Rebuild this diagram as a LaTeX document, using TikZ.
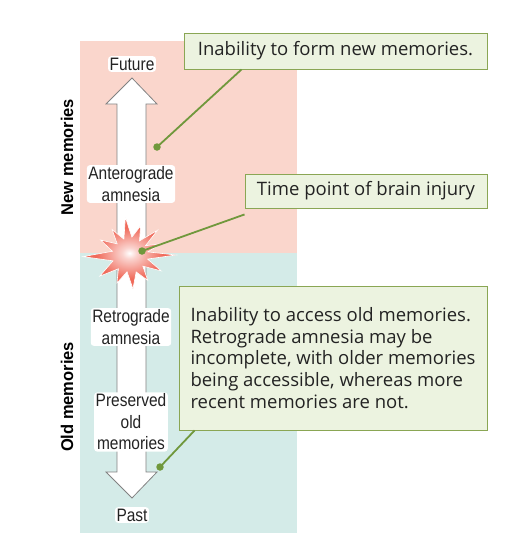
\documentclass[tikz,border=0pt]{standalone}
\usepackage{fontspec}
\setmainfont{Open Sans}
\newfontfamily\condf[FakeStretch=0.86]{Liberation Sans}
\newfontfamily\condb[FakeStretch=0.97]{Liberation Sans Bold}
\usetikzlibrary{calc}
\definecolor{pinkbg}{RGB}{250,214,204}
\definecolor{bluebg}{RGB}{212,235,232}
\definecolor{boxfill}{RGB}{236,243,224}
\definecolor{boxdraw}{RGB}{138,166,84}
\definecolor{leadc}{RGB}{112,152,60}
\definecolor{starc}{RGB}{240,106,90}
\definecolor{arrowc}{RGB}{130,130,130}
\definecolor{txt}{RGB}{35,35,35}
\pgfdeclareradialshading{starshade}{\pgfpoint{0bp}{0bp}}{color(0bp)=(white); color(4bp)=(white!70!starc); color(18bp)=(starc); color(50bp)=(starc)}
\tikzset{
  infobox/.style={draw=boxdraw, line width=0.9pt, fill=boxfill, text=txt, font=\fontsize{18.5}{21.6}\selectfont, inner sep=0pt},
  leader/.style={draw=leadc, line width=1.8pt},
  dot/.style={circle, fill=leadc, inner sep=0pt, minimum size=7.5pt},
  arlabel/.style={fill=white, rounded corners=3pt, inner sep=1.5pt, text=txt, font=\condf\fontsize{18}{21.5}\selectfont, align=center},
  sidelabel/.style={rotate=90, font=\condb\fontsize{17}{18}\selectfont, text=black},
}
\begin{document}
\begin{tikzpicture}[x=1pt,y=-1pt]
\useasboundingbox (0,0) rectangle (523,555);
% backgrounds
\fill[pinkbg] (80,41) rectangle (297,253);
\fill[bluebg] (80,253) rectangle (297,533);
% side labels
\node[sidelabel] (newm) at (67,157) {New memories};
\node[sidelabel] (oldm) at (67,397) {Old memories};
% arrow
\draw[arrowc, fill=white, line width=0.8pt, line join=miter]
  (132,78) -- (157,104) -- (146,104) -- (146,472) -- (157,472) -- (132,498)
  -- (106,472) -- (117,472) -- (117,104) -- (106,104) -- cycle;
% labels on arrow
\node[arlabel] (fut) at (132,64) {Future};
\node[arlabel] (past) at (132,515) {Past};
\node[arlabel] (ant) at (131,184) {Anterograde\\amnesia};
\node[arlabel] (ret) at (131,327) {Retrograde\\amnesia};
\node[arlabel] (pres) at (131,422) {Preserved\\old\\memories};
% starburst
\begin{scope}[shift={(130,255)}]
\shade[shading=starshade, draw=white, line width=0.6pt, line join=miter]
  (0:46) -- (13:18) -- (27:35) -- (41:17) -- (55:31) -- (70:18) -- (85:34) -- (100:17)
  -- (115:31) -- (130:18) -- (145:37) -- (161:18) -- (178:47) -- (192:18) -- (207:33)
  -- (221:17) -- (235:31) -- (249:17) -- (263:38) -- (276:18) -- (290:31) -- (304:17)
  -- (318:37) -- (329:18) -- (340:33) -- (350:18) -- cycle;
\end{scope}
% boxes
\node[infobox, minimum width=303pt, minimum height=36pt] (b1) at (335.5,51) {Inability to form new memories.};
\node[infobox, minimum width=242pt, minimum height=34pt] (b2) at (366,191) {Time point of brain injury};
\node[infobox, minimum width=308pt, minimum height=144pt, align=left] (b3) at (333,358)
  {Inability to access old memories.\\Retrograde amnesia may be\\incomplete, with older memories\\being accessible, whereas more\\recent memories are not.};
% leaders
\coordinate (d1) at (157,147);
\coordinate (d2) at (142,251);
\coordinate (d3) at (160,467);
\draw[leader] (d1) -- ([xshift=58pt]b1.south west);
\draw[leader] (d2) -- ([yshift=-6pt]b2.south west);
\draw[leader] (d3) -- ([xshift=16pt]b3.south west);
\node[dot] at (d1) {};
\node[dot] at (d2) {};
\node[dot] at (d3) {};
\end{tikzpicture}
\end{document}
